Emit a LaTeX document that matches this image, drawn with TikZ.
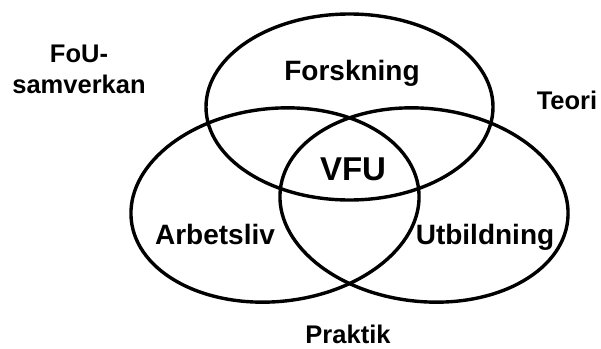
\documentclass[tikz,border=0pt]{standalone}
\usepackage{fontspec}
\setmainfont{Liberation Sans}
\usetikzlibrary{shapes.geometric}

\begin{document}
\begin{tikzpicture}[x=1pt,y=-1pt,
  ring/.style={ellipse,draw,line width=3.4pt,inner sep=0pt},
  inner/.style={anchor=base,font=\bfseries\fontsize{28}{32}\selectfont},
  outer/.style={anchor=base,font=\bfseries\fontsize{25.5}{31}\selectfont,align=center}]
 \useasboundingbox (0,0) rectangle (601,348);
 % three rings
 \node[ring,minimum width=287pt,minimum height=186pt] (top) at (349.5,107) {};
 \node[ring,minimum width=289pt,minimum height=193pt,rotate=6] (left) at (275,205) {};
 \node[ring,minimum width=289pt,minimum height=193pt,rotate=-6] (right) at (424,205) {};
 % labels
 \node[inner] (forskning) at (352,80) {Forskning};
 \node[inner] (arbetsliv) at (215,244) {Arbetsliv};
 \node[inner] (utbildning) at (485,244) {Utbildning};
 \node[inner,font=\bfseries\fontsize{33}{36}\selectfont] (vfu) at (353,180) {VFU};
 \node[outer] (fou) at (79,93) {FoU-\\samverkan};
 \node[outer] (teori) at (567,109) {Teori};
 \node[outer] (praktik) at (348,343) {Praktik};
\end{tikzpicture}
\end{document}
